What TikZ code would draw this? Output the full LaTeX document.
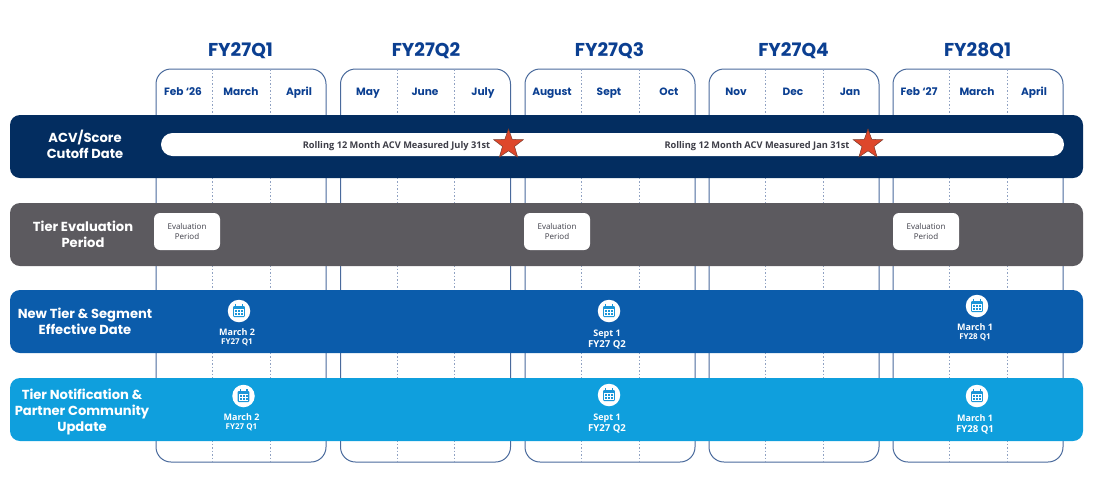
\documentclass[tikz,border=0pt]{standalone}
\usepackage{fontspec}
\setmainfont{Poppins}
\newfontfamily\smallfont{Open Sans}
\usetikzlibrary{shapes.geometric}
\definecolor{qblue}{HTML}{0B3F91}
\definecolor{qline}{HTML}{4A6A9C}
\definecolor{qdot}{HTML}{8FA1C2}
\definecolor{navybar}{HTML}{032D60}
\definecolor{greybar}{HTML}{5C5A5F}
\definecolor{bluebar}{HTML}{0B5CAB}
\definecolor{skybar}{HTML}{0F9FDD}
\definecolor{iconblue}{HTML}{1B96D8}
\definecolor{starred}{HTML}{DE472B}
\definecolor{stardark}{HTML}{7A3A2C}
\definecolor{smalltext}{HTML}{3E3E48}
\tikzset{
  quarterbox/.style={draw=qline,line width=1pt,rounded corners=15pt,minimum width=170pt,minimum height=393pt,inner sep=0pt},
  monthdiv/.style={draw=qdot,line width=1pt,dash pattern=on 1.5pt off 2pt},
  bandbar/.style={rounded corners=10pt,minimum width=1073pt,minimum height=63pt,inner sep=0pt},
  quartertitle/.style={text=qblue,anchor=base,font=\fontsize{18.6}{20}\selectfont\bfseries,inner sep=0pt},
  monthlabel/.style={text=qblue,anchor=base,font=\fontsize{10.6}{13}\selectfont\bfseries,inner sep=0pt},
  barlabel/.style={text=white,align=center,font=\fontsize{13.1}{16.4}\selectfont\bfseries,inner sep=0pt},
  pilltext/.style={text=smalltext,font=\smallfont\fontsize{9.25}{11}\selectfont\bfseries,inner sep=0pt},
  evalbox/.style={fill=white,rounded corners=6pt,minimum width=66pt,minimum height=37pt,inner sep=0pt,align=center,text=smalltext,font=\smallfont\fontsize{8}{9.2}\selectfont},
  datemain/.style={text=white,font=\smallfont\fontsize{9}{11}\selectfont\bfseries,inner sep=0pt},
  redstar/.style={star,star points=5,star point ratio=2.45,fill=starred,draw=stardark,line width=.5pt,minimum size=31pt,inner sep=0pt},
  iconcircle/.style={circle,fill=white,minimum size=22.5pt,inner sep=0pt},
  pics/calicon/.style={code={
    \fill[iconblue,rounded corners=1pt] (-5.8,-5) rectangle (5.8,6);
    \fill[iconblue] (-4,-7) rectangle (-2.6,-4);
    \fill[iconblue] (2.6,-7) rectangle (4,-4);
    \fill[white] (-4.6,-1.6) rectangle (4.6,4.8);
    \foreach \cx in {-3,0,3}{\foreach \cy in {0,3}{
      \fill[iconblue] (\cx-1,\cy-1) rectangle (\cx+1,\cy+1);}}
  }}
}
\begin{document}
\begin{tikzpicture}[x=1pt,y=-1pt]
\useasboundingbox (0,0) rectangle (1099,499);
% quarter frames
\foreach \qn/\qx in {a/156,b/340.5,c/525,d/709,e/893}{
  \node[quarterbox] (box\qn) at (\qx+85,265.5) {};
  \coordinate (top1\qn) at (\qx+56.5,69);
  \coordinate (bot1\qn) at (\qx+56.5,462);
  \coordinate (top2\qn) at (\qx+114,69);
  \coordinate (bot2\qn) at (\qx+114,462);
  \draw[monthdiv] (top1\qn) -- (bot1\qn);
  \draw[monthdiv] (top2\qn) -- (bot2\qn);
}
% quarter titles
\node[quartertitle] (t1) at (240.5,56.5) {FY27Q1};
\node[quartertitle] (t2) at (426,56.5) {FY27Q2};
\node[quartertitle] (t3) at (609.5,56.5) {FY27Q3};
\node[quartertitle] (t4) at (793.5,56.5) {FY27Q4};
\node[quartertitle] (t5) at (977.5,56.5) {FY28Q1};
% months
\foreach \mn/\mx/\mt in {m1/183/{Feb ‘26},m2/241/March,m3/299/April,m4/368/May,m5/425/June,m6/483/July,m7/552/August,m8/609/Sept,m9/669/Oct,m10/736/Nov,m11/793/Dec,m12/850/Jan,m13/919/{Feb ‘27},m14/977/March,m15/1034/April}{
  \node[monthlabel] (\mn) at (\mx,95) {\mt};
}
% bars
\node[bandbar,fill=navybar] (barA) at (546.5,146.5) {};
\node[bandbar,fill=greybar] (barB) at (546.5,234.5) {};
\node[bandbar,fill=bluebar] (barC) at (546.5,321.5) {};
\node[bandbar,fill=skybar] (barD) at (546.5,409.5) {};
% bar titles
\node[barlabel] (la) at (85,144.3) {ACV/Score\\Cutoff Date};
\node[barlabel] (lb) at (83,234.5) {Tier Evaluation\\Period};
\node[barlabel] (lc) at (85,321) {New Tier \& Segment\\Effective Date};
\node[barlabel] (ld) at (82,412) {Tier Notification \&\\Partner Community\\Update};
% cutoff pill
\node[fill=white,rounded corners=11.5pt,minimum width=903pt,minimum height=23pt,inner sep=0pt] (pill) at (612.5,144.5) {};
\node[pilltext] (p1) at (396.5,146.5) {Rolling 12 Month ACV Measured July 31st};
\node[pilltext] (p2) at (757,146.5) {Rolling 12 Month ACV Measured Jan 31st};
\node[redstar] (s1) at (508.5,144.5) {};
\node[redstar] (s2) at (868,144.5) {};
% evaluation boxes
\node[evalbox] (e1) at (187,231.5) {Evaluation\\Period};
\node[evalbox] (e2) at (557,231.5) {Evaluation\\Period};
\node[evalbox] (e3) at (926,231.5) {Evaluation\\Period};
% dates
\foreach \dn/\ix/\iy/\tx/\ty/\sy/\dt/\ds/\fs in {
  c1/239/311/237/332/342/{March 2}/{FY27 Q1}/8,
  c2/609/311/607/334/345/{Sept 1}/{FY27 Q2}/9.6,
  c3/977/306/975/327/337/{March 1}/{FY28 Q1}/8,
  d1/243.5/396/241.5/417/427/{March 2}/{FY27 Q1}/8,
  d2/609/395/607/418/429/{Sept 1}/{FY27 Q2}/9.6,
  d3/977/396/975/418/430/{March 1}/{FY28 Q1}/9.6}{
  \node[iconcircle] (i\dn) at (\ix,\iy) {};
  \pic at (i\dn) {calicon};
  \node[datemain] (dm\dn) at (\tx,\ty) {\dt};
  \node[datemain,font=\smallfont\fontsize{\fs}{10}\selectfont\bfseries] (ds\dn) at (\tx,\sy) {\ds};
}
\end{tikzpicture}
\end{document}
